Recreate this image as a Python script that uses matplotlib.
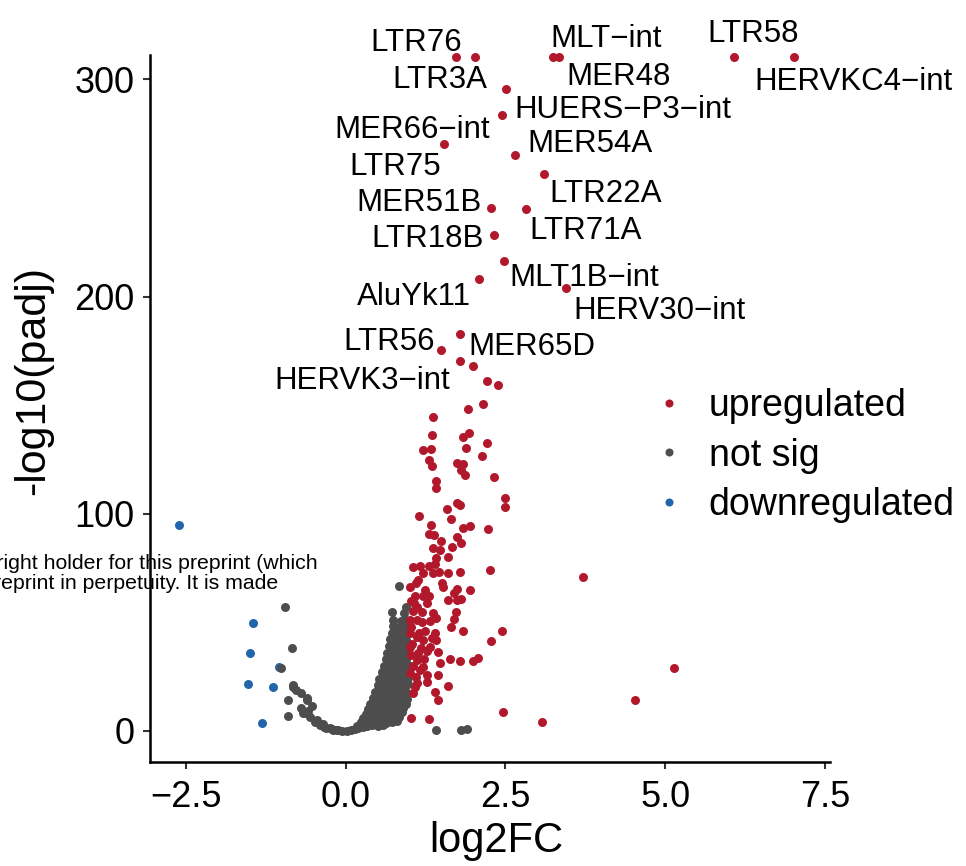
import matplotlib
matplotlib.use('Agg')
import matplotlib.pyplot as plt
from matplotlib.lines import Line2D

plt.rcParams['font.family'] = ['Liberation Sans', 'DejaVu Sans']

# ---------------- data (log2FC, -log10(padj)) ----------------
up_points = [
    (2.00, 168.0), (2.21, 161.3), (2.39, 159.2), (2.15, 150.6), (1.91, 148.1), (1.37, 144.7),
    (1.36, 136.4), (1.84, 135.5), (1.93, 137.0), (2.22, 132.5), (1.88, 130.1), (1.21, 129.4),
    (1.33, 129.8), (2.14, 126.8), (1.30, 124.8), (1.36, 122.0), (1.75, 123.2), (1.84, 123.0),
    (1.81, 120.2), (1.87, 117.9), (2.33, 117.1), (1.41, 115.2), (1.42, 111.7), (2.49, 107.4),
    (2.49, 103.3), (1.74, 105.1), (1.79, 104.0), (1.58, 102.2), (1.15, 99.1), (1.65, 97.6),
    (1.33, 94.8), (1.83, 93.6), (1.94, 94.5), (2.23, 93.0), (1.30, 90.6), (1.38, 90.1),
    (1.50, 87.5), (1.74, 89.5), (1.80, 86.4), (1.66, 84.9), (1.37, 84.4), (1.47, 83.3),
    (1.60, 80.3), (1.42, 79.4), (1.40, 76.9), (1.31, 76.0), (1.06, 75.7), (1.16, 76.0),
    (1.21, 72.6), (1.37, 72.6), (1.46, 73.0), (1.61, 72.9), (1.79, 73.0), (2.26, 74.1),
    (1.13, 69.5), (1.01, 66.4), (1.51, 68.0), (1.53, 66.4), (1.74, 65.4), (1.70, 63.4),
    (1.95, 64.8), (1.60, 60.3), (1.74, 60.3), (1.81, 60.6), (1.21, 62.2), (1.27, 58.8),
    (1.07, 58.8), (1.37, 54.2), (1.19, 54.9), (1.73, 54.8), (1.69, 51.7), (1.65, 48.0),
    (1.84, 45.9), (2.45, 45.9), (1.01, 51.1), (1.11, 51.1), (1.32, 50.4), (1.42, 51.8),
    (1.40, 45.0), (1.42, 41.9), (2.27, 41.6), (1.01, 45.0), (1.11, 43.4), (1.21, 41.9),
    (1.32, 38.8), (1.45, 36.5), (1.47, 31.2), (1.63, 33.0), (1.79, 32.0), (2.00, 32.0),
    (2.08, 33.4), (1.11, 32.7), (1.21, 29.6), (1.01, 26.6), (1.27, 25.8), (1.45, 25.8),
    (1.27, 22.7), (1.60, 20.7), (1.06, 17.4), (1.40, 18.1), (1.45, 14.3), (2.47, 8.6),
    (1.02, 5.8), (1.30, 5.5), (1.11, 22.0), (1.01, 38.8), (1.14, 35.8),
    (1.03, 48.0), (1.05, 55.0), (1.08, 62.0), (1.04, 40.0), (1.06, 30.0), (1.10, 25.0),
    (1.15, 45.0), (1.18, 38.0), (1.20, 50.0), (1.12, 57.0), (1.25, 46.0), (1.22, 33.0),
    (1.03, 35.0), (1.08, 20.0), (1.16, 28.0), (1.25, 65.0), (1.02, 60.0), (1.10, 68.0),
    (1.30, 62.0), (1.35, 43.0), (1.28, 37.0),
    (3.71, 70.9), (5.14, 29.0), (4.53, 14.3), (3.07, 4.1),
]

ns_points = [
    (-0.20, 0.3), (-0.12, 0.3), (-0.05, 0.2), (0.02, 0.2), (0.09, 0.3),
    (-0.30, 1.2), (-0.22, 0.9), (0.14, 1.0), (0.20, 1.3), (0.27, 1.6),
    (-0.40, 2.6), (-0.33, 2.0), (0.18, 2.3), (0.26, 2.6), (0.34, 2.5), (0.42, 2.8), (0.50, 2.4), (0.58, 2.7),
    (-0.48, 4.2), (0.24, 4.0), (0.32, 4.3), (0.40, 3.9), (0.48, 4.1), (0.56, 4.4), (0.64, 3.8), (0.72, 4.2), (0.80, 4.6),
    (-0.56, 6.3), (0.28, 5.8), (0.36, 6.1), (0.44, 6.2), (0.52, 5.9), (0.60, 6.0), (0.68, 6.4), (0.76, 5.7), (0.84, 6.2),
    (-0.62, 8.4), (0.32, 8.0), (0.40, 7.8), (0.48, 8.2), (0.56, 8.1), (0.64, 7.9), (0.72, 8.3), (0.80, 8.0), (0.88, 8.5),
    (-0.52, 11.7), (0.35, 10.2), (0.43, 9.8), (0.51, 10.1), (0.59, 10.4), (0.67, 9.9), (0.75, 10.3), (0.83, 10.0), (0.90, 10.6),
    (-0.61, 14.3), (0.39, 12.4), (0.47, 12.7), (0.55, 12.3), (0.63, 12.8), (0.71, 12.5), (0.79, 12.2), (0.87, 12.9), (0.94, 12.6),
    (0.43, 15.1), (0.51, 14.8), (0.59, 15.3), (0.67, 14.9), (0.75, 15.2), (0.83, 15.0), (0.91, 15.4), (0.96, 14.7),
    (0.46, 18.0), (0.54, 17.8), (0.62, 18.3), (0.70, 17.9), (0.78, 18.2), (0.86, 18.1), (0.94, 17.7),
    (0.50, 21.2), (0.58, 20.8), (0.66, 21.1), (0.74, 21.3), (0.82, 20.9), (0.90, 21.0), (0.97, 21.4),
    (0.53, 24.1), (0.61, 23.8), (0.69, 24.2), (0.77, 24.0), (0.85, 23.9), (0.93, 24.3), (0.98, 24.5),
    (0.57, 27.0), (0.65, 27.2), (0.73, 26.8), (0.81, 27.1), (0.89, 26.9), (0.96, 27.3),
    (0.60, 30.1), (0.68, 29.8), (0.76, 30.2), (0.84, 30.0), (0.92, 29.9), (0.98, 30.4),
    (0.63, 33.0), (0.71, 33.2), (0.79, 32.8), (0.87, 33.1), (0.95, 33.3),
    (0.65, 36.1), (0.73, 35.8), (0.81, 36.2), (0.89, 35.9), (0.96, 36.3),
    (0.68, 38.9), (0.76, 39.2), (0.84, 39.0), (0.92, 38.8), (0.98, 39.3),
    (0.70, 42.1), (0.78, 41.8), (0.86, 42.2), (0.94, 42.0),
    (0.72, 45.0), (0.80, 45.1), (0.88, 44.8), (0.95, 45.3),
    (0.75, 48.1), (0.83, 47.9), (0.91, 48.2), (0.97, 48.0),
    (0.74, 51.1), (0.86, 50.8), (0.94, 51.2),
    (0.72, 54.9), (0.92, 54.5), (0.95, 57.2), (0.84, 66.9),
    (-0.94, 57.2), (-0.84, 38.1), (-1.01, 29.0), (-0.83, 21.2), (-0.77, 18.9), (-0.69, 17.6),
    (-0.90, 14.3), (-0.90, 6.9), (-0.45, 5.0), (-0.35, 3.2), (-0.70, 10.5), (-0.58, 9.0),
    (-0.82, 20.4), (-0.61, 15.0), (-0.66, 8.1), (-0.25, 1.2), (-0.14, 0.4),
    (1.42, 0.4), (1.81, 0.4), (1.90, 0.8),
]

down_points = [
    (-2.61, 94.8), (-1.45, 49.9), (-1.50, 35.8), (-1.04, 29.6), (-1.53, 21.6), (-1.13, 20.4), (-1.31, 3.5),
]

lab_names = ['LTR76', 'LTR3A', 'MLT-int', 'MER48', 'LTR58', 'HERVKC4-int', 'HUERS-P3-int',
             'MER66-int', 'LTR75', 'MER54A', 'LTR22A', 'MER51B', 'LTR71A', 'LTR18B',
             'MLT1B-int', 'AluYk11', 'HERV30-int', 'MER65D', 'LTR56', 'HERVK3-int']
lab_x = [1.73, 2.03, 3.24, 3.34, 6.08, 7.02, 2.51, 2.44, 1.54, 2.65, 3.10, 2.27, 2.82, 2.33,
         2.48, 2.09, 3.45, 1.79, 1.50, 1.79]
lab_y = [310.4, 310.4, 310.4, 310.4, 310.4, 310.4, 295.6, 283.6, 270.1, 265.2, 256.3, 240.9,
         240.3, 228.4, 216.4, 208.1, 203.8, 182.6, 175.4, 170.3]

x_ticks = [-2.5, 0.0, 2.5, 5.0, 7.5]
y_ticks = [0, 100, 200, 300]
legend_labels = ['upregulated', 'not sig', 'downregulated']

# ---------------- layout / style ----------------
# repelled label text positions (data coords: centre x, baseline y)
label_text_pos = {
    'LTR76': (1.107, 313.1), 'LTR3A': (1.470, 296.0), 'MLT-int': (4.081, 314.7),
    'MER48': (4.268, 297.2), 'LTR58': (6.381, 317.4), 'HERVKC4-int': (7.954, 295.1),
    'HUERS-P3-int': (4.339, 282.2), 'MER66-int': (1.042, 272.9), 'LTR75': (0.779, 256.0),
    'MER54A': (3.822, 266.6), 'LTR22A': (4.073, 243.6), 'MER51B': (1.142, 239.6),
    'LTR71A': (3.752, 226.3), 'LTR18B': (1.287, 222.6), 'MLT1B-int': (3.729, 204.7),
    'AluYk11': (1.068, 195.9), 'HERV30-int': (4.918, 189.7), 'MER65D': (2.923, 173.1),
    'LTR56': (0.685, 175.4), 'HERVK3-int': (0.262, 157.2),
}

C_UP = '#B2182B'
C_NS = '#4D4D4D'
C_DOWN = '#2166AC'
W, H = 966, 866

fig = plt.figure(figsize=(W / 100, H / 100), dpi=100)
ax = fig.add_axes([150 / W, (H - 762) / H, 680 / W, 707 / H])

pt_size = 42
dx, dy = zip(*down_points)
nx, ny = zip(*ns_points)
ux, uy = zip(*up_points)
ax.scatter(dx, dy, s=pt_size, color=C_DOWN, linewidths=0, clip_on=False, zorder=3)
ax.scatter(nx, ny, s=pt_size, color=C_NS, linewidths=0, clip_on=False, zorder=3)
ax.scatter(ux, uy, s=pt_size, color=C_UP, linewidths=0, clip_on=False, zorder=3)
ax.scatter(lab_x, lab_y, s=pt_size, color=C_UP, linewidths=0, clip_on=False, zorder=3)

for name in lab_names:
    tx, ty = label_text_pos[name]
    ax.text(tx, ty, name.replace('-', '\u2212'), ha='center', va='baseline',
            fontsize=22.5, color='black', zorder=4, clip_on=False)

ax.set_xlim(-3.06, 7.58)
ax.set_ylim(-14.3, 311.2)
ax.set_xticks(x_ticks)
ax.set_yticks(y_ticks)

for side in ['top', 'right']:
    ax.spines[side].set_visible(False)
for side in ['left', 'bottom']:
    ax.spines[side].set_linewidth(1.8)
    ax.spines[side].set_color('black')
ax.tick_params(axis='both', direction='out', length=5, width=1.5, color='#333333',
               labelsize=26, labelcolor='black')
ax.tick_params(axis='x', pad=8)
ax.tick_params(axis='y', pad=6)

fig.text(496 / W, 1 - 852 / H, 'log2FC', ha='center', va='baseline', fontsize=30)
fig.text(33 / W, 1 - 381 / H, '-log10(padj)', ha='center', va='center', rotation=90, fontsize=31)

handles = [Line2D([], [], linestyle='none', marker='o', markersize=5.8, color=c, markeredgewidth=0)
           for c in (C_UP, C_NS, C_DOWN)]
leg = fig.legend(handles, legend_labels, loc='center left',
                 bbox_to_anchor=(650 / W, 1 - 455.5 / H), frameon=False,
                 fontsize=27, handlelength=1.0, handletextpad=0.57, labelspacing=0.35,
                 borderpad=0, borderaxespad=0)

ax.text(318 / W, 1 - 569 / H, 'The copyright holder for this preprint (which',
        transform=fig.transFigure, ha='right', va='baseline', fontsize=15.3, zorder=1, clip_on=False)
ax.text(278 / W, 1 - 589 / H, 'display the preprint in perpetuity. It is made',
        transform=fig.transFigure, ha='right', va='baseline', fontsize=15.3, zorder=1, clip_on=False)

fig.savefig('out.png', dpi=100)
